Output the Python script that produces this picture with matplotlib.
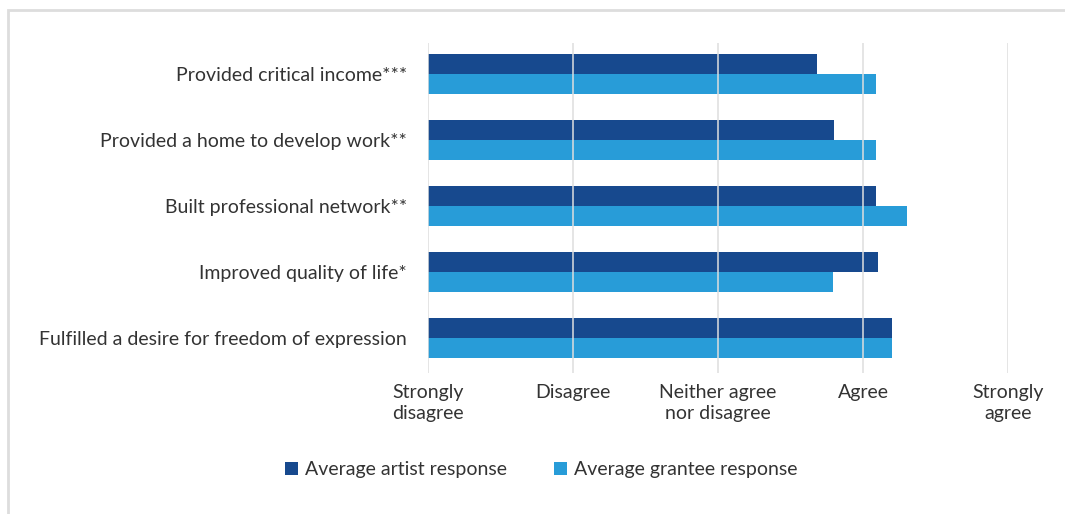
import numpy as np
import matplotlib.pyplot as plt
from matplotlib.patches import Rectangle

plt.rcParams['font.family'] = ['Lato', 'DejaVu Sans']

categories = [
    "Provided critical income***",
    "Provided a home to develop work**",
    "Built professional network**",
    "Improved quality of life*",
    "Fulfilled a desire for freedom of expression",
]
artist = [3.68, 3.80, 4.09, 4.10, 4.20]
grantee = [4.09, 4.09, 4.30, 3.79, 4.20]
scale_labels = ["Strongly\ndisagree", "Disagree", "Neither agree\nnor disagree",
                "Agree", "Strongly\nagree"]

dark = "#17498E"
light = "#289CD8"
text_col = "#333333"
fs = 14

fig = plt.figure(figsize=(10.65, 5.14), dpi=100)
ax = fig.add_axes([0.4019, 0.2743, 0.9465 - 0.4019, 0.9163 - 0.2743])

y = np.arange(len(categories))
h = 0.30
ax.barh(y - h / 2, np.array(artist) - 1, left=1, height=h, color=dark,
        label="Average artist response", zorder=1)
ax.barh(y + h / 2, np.array(grantee) - 1, left=1, height=h, color=light,
        label="Average grantee response", zorder=1)

ax.set_xlim(1, 5)
ax.set_ylim(len(categories) - 0.47, -0.47)
ax.set_xticks([1, 2, 3, 4, 5])
ax.set_xticklabels(scale_labels, fontsize=fs, color=text_col, linespacing=1.25)
ax.set_yticks(y)
ax.set_yticklabels(categories, fontsize=fs, color=text_col)
ax.tick_params(axis='both', length=0)
ax.tick_params(axis='y', pad=15)
ax.tick_params(axis='x', pad=8)
for s in ax.spines.values():
    s.set_visible(False)
for xv in [1, 2, 3, 4, 5]:
    ax.axvline(xv, color="#DEDEDE", lw=1.1, zorder=3)

fig.legend(loc='center', bbox_to_anchor=(0.508, 0.086), ncol=2, frameon=False,
           fontsize=fs, handlelength=0.67, handleheight=0.67,
           handletextpad=0.36, columnspacing=2.4, labelcolor=text_col)

# light frame around the panel
fig.patches.append(Rectangle((8 / 1065, -0.1), 1.2, 1 - 10 / 514 + 0.1,
                             transform=fig.transFigure, fill=False,
                             edgecolor="#DDDDDD", lw=2))

fig.savefig("out.png", dpi=100)
